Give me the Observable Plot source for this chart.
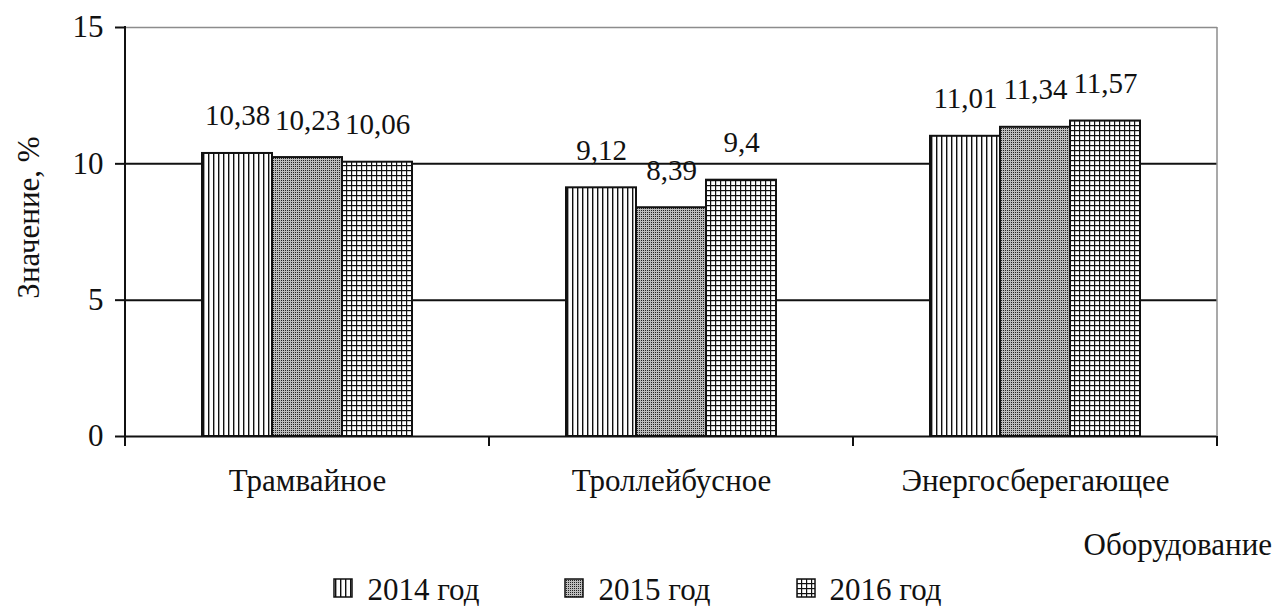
<!DOCTYPE html>
<html><head><meta charset="utf-8">
<script src="https://cdn.jsdelivr.net/npm/d3@7"></script>
<script src="https://cdn.jsdelivr.net/npm/@observablehq/plot@0.6"></script>
<style>
body{margin:0;background:#fff;overflow:hidden;font-family:"Liberation Serif","Times New Roman",serif;color:#111;}
#wrap{position:relative;width:1275px;height:607px;}
#chart svg, #chart svg text{font-family:"Liberation Serif","Times New Roman",serif !important;}
#xlabel{position:absolute;right:3px;top:527px;font-size:31px;line-height:36px;}
#legend{position:absolute;left:0;width:1275px;top:572px;display:flex;justify-content:center;gap:85px;font-size:31px;line-height:36px;}
.item{display:flex;align-items:center;gap:14px}
.item svg{display:block;margin-top:-4px}
</style></head><body>
<svg width="0" height="0" style="position:absolute"><defs>
<pattern id="p2014" width="5" height="10" patternUnits="userSpaceOnUse"><rect width="5" height="10" fill="#fff"/><rect x="2" width="1.4" height="10" fill="#111"/></pattern>
<pattern id="p2015" width="2" height="2" patternUnits="userSpaceOnUse"><rect width="2" height="2" fill="#bcbcbc"/><rect width="1" height="1" fill="#222"/></pattern>
<pattern id="p2016" width="5" height="5" patternUnits="userSpaceOnUse"><rect width="5" height="5" fill="#fff"/><rect width="5" height="1.2" fill="#111"/><rect width="1.2" height="5" fill="#111"/></pattern>
</defs></svg>
<div id="wrap"><div id="chart"></div><div id="xlabel">Оборудование</div><div id="legend"></div></div>
<script>
const categories = ["Трамвайное", "Троллейбусное", "Энергосберегающее"];
const years = ["2014 год", "2015 год", "2016 год"];
const values2014 = [10.38, 9.12, 11.01];
const values2015 = [10.23, 8.39, 11.34];
const values2016 = [10.06, 9.4, 11.57];
const yTicks = [0, 5, 10, 15];
const yLabel = "Значение, %";
const patterns = ["url(#p2014)", "url(#p2015)", "url(#p2016)"];

const seriesValues = [values2014, values2015, values2016];
const data = categories.flatMap((c, i) => years.map((y, j) => ({category: c, year: y, value: seriesValues[j][i]})));
const fmt = v => String(v).replace(".", ",");

const chart = Plot.plot({
  width: 1275, height: 515,
  marginTop: 27, marginLeft: 124, marginRight: 58, marginBottom: 79,
  style: {fontSize: "31px", color: "#111", background: "white", overflow: "visible"},
  fx: {domain: categories, padding: 0, label: null},
  x: {domain: years, paddingInner: 0, paddingOuter: 1.1, axis: null},
  y: {domain: [0, 15], label: null},
  color: {domain: years, range: patterns},
  marks: [
    Plot.ruleY([5, 10], {stroke: "#111", strokeWidth: 2}),
    Plot.ruleY([15], {stroke: "#8c8c8c", strokeWidth: 1.5}),
    Plot.barY(data, {fx: "category", x: "year", y: "value", fill: "year", stroke: "#111", strokeWidth: 2}),
    Plot.ruleY([0], {stroke: "#111", strokeWidth: 2}),
    Plot.text(data, {fx: "category", x: "year", y: "value", text: d => fmt(d.value), lineAnchor: "bottom", dy: -28, fill: "#111", fontSize: 29}),
    Plot.axisY(yTicks, {tickSize: 10, tickPadding: 12, strokeWidth: 2, label: null, fill: "#111", fontSize: 31}),
    Plot.axisFx({anchor: "bottom", tickSize: 0, tickPadding: 32, label: null, fill: "#111", fontSize: 31})
  ]
});
document.getElementById("chart").appendChild(chart);

// frame lines drawn from the plot's own scales
const svg = d3.select(chart);
const fxs = chart.scale("fx"), ys = chart.scale("y");
const y0 = ys.apply(0), yTop = ys.apply(15);
const bounds = categories.map(c => fxs.apply(c));
const rightEdge = bounds[bounds.length - 1] + fxs.bandwidth;
const g = svg.append("g").attr("stroke", "#111").attr("stroke-width", 2);
g.append("line").attr("x1", bounds[0]).attr("x2", bounds[0]).attr("y1", yTop - 1).attr("y2", y0 + 10);
g.selectAll(".bt").data([...bounds.slice(1), rightEdge]).join("line")
  .attr("x1", d => d).attr("x2", d => d).attr("y1", y0).attr("y2", y0 + 10);
svg.append("line").attr("stroke", "#8c8c8c").attr("stroke-width", 1.5)
  .attr("x1", rightEdge).attr("x2", rightEdge).attr("y1", yTop).attr("y2", y0);
svg.append("text").text(yLabel)
  .attr("transform", `translate(28,${(yTop + y0) / 2 - 14}) rotate(-90)`)
  .attr("text-anchor", "middle").attr("dy", "0.35em").attr("fill", "#111").attr("font-size", 31);

// legend
const legend = d3.select("#legend");
years.forEach((y, j) => {
  const it = legend.append("div").attr("class", "item");
  const s = it.append("svg").attr("width", 20).attr("height", 20);
  s.append("rect").attr("x", 1).attr("y", 1).attr("width", 18).attr("height", 18)
    .attr("fill", patterns[j]).attr("stroke", "#111").attr("stroke-width", 1.5);
  it.append("span").text(y);
});
</script>
</body></html>
